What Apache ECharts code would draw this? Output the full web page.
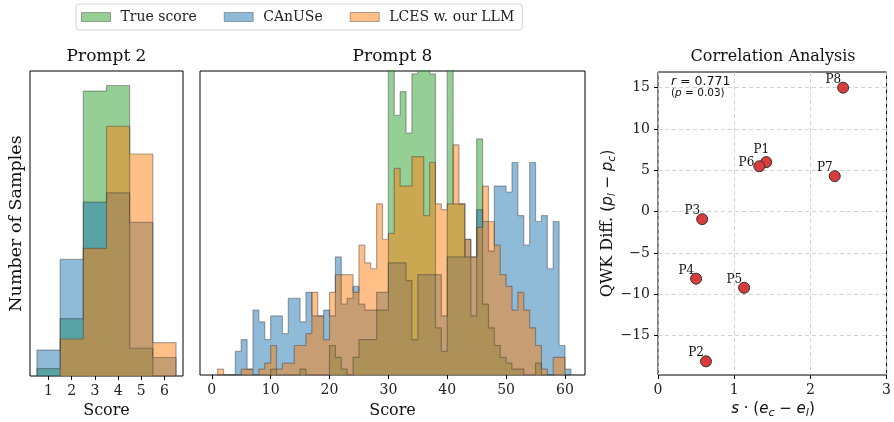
<!DOCTYPE html>
<html>
<head>
<meta charset="utf-8">
<script src="https://cdn.jsdelivr.net/npm/echarts@6/dist/echarts.min.js"></script>
<style>
  html, body { margin: 0; padding: 0; background: #fff; }
  #chart { width: 894px; height: 422px; }
</style>
</head>
<body>
<div id="chart"></div>
<script>
const seriesNames = ["True score", "CAnUSe", "LCES w. our LLM"];

// Prompt 2: one bin per integer score
const p2Scores = [1, 2, 3, 4, 5, 6];
const p2True = [4, 31, 154, 157, 15, 0];
const p2Canuse = [14, 63, 94, 99, 83, 10];
const p2Lces = [0, 20, 69, 135, 120, 18];

// Prompt 8: bins [k, k+1], first bin starts at 1
const p8BinStart = 1;
const p8True = [
  0, 0, 0, 0, 0, 0, 0, 0, 0, 1,
  0, 0, 0, 0, 1, 0, 0, 0, 0, 5,
  3, 1, 0, 3, 6, 6, 6, 11, 11, 58,
  44, 48, 41, 51, 60, 58, 51, 8, 4, 58,
  29, 29, 20, 10, 40, 12, 8, 5, 3, 2,
  1, 1, 0, 0, 2, 0, 0, 0, 0, 0
];
const p8Canuse = [
  0, 0, 0, 4, 6, 1, 11, 9, 6, 10,
  10, 7, 13, 13, 9, 14, 10, 10, 11, 10,
  20, 12, 13, 15, 12, 11, 11, 14, 14, 19,
  19, 19, 16, 6, 17, 17, 17, 17, 10, 20,
  20, 20, 23, 20, 28, 26, 21, 32, 32, 31,
  36, 27, 22, 36, 26, 27, 18, 26, 5, 1
];
const p8Lces = [
  1, 0, 0, 0, 1, 1, 0, 1, 2, 5,
  1, 2, 2, 5, 5, 7, 14, 10, 6, 14,
  17, 17, 17, 14, 22, 19, 18, 29, 23, 24,
  35, 32, 32, 37, 37, 27, 36, 29, 28, 29,
  39, 29, 23, 20, 25, 32, 26, 22, 17, 15,
  11, 14, 11, 8, 5, 1, 0, 3, 3, 0
];

const p2Ticks = [1, 2, 3, 4, 5, 6];
const p8Ticks = [0, 10, 20, 30, 40, 50, 60];

// correlation panel
const promptLabels = ["P1", "P2", "P3", "P4", "P5", "P6", "P7", "P8"];
const entropyGap = [1.42, 0.63, 0.58, 0.50, 1.13, 1.33, 2.32, 2.43];
const qwkDiff = [6.0, -18.1, -0.9, -8.1, -9.2, 5.5, 4.3, 15.0];
const corrTicksY = [-15, -10, -5, 0, 5, 10, 15];
const corrR = "0.771";
const corrP = "0.03";

const serif = "DejaVu Serif";
const sans = "DejaVu Sans";
const fills = ["rgba(44,160,44,0.5)", "rgba(31,119,180,0.5)", "rgba(255,127,14,0.5)"];
const edge = "rgba(50,50,50,0.4)";
// label nudges for the crowded points
const labelNudge = { P1: [9, -12], P6: [1, -3] };

function stepPoints(firstEdge, width, counts) {
  const last = firstEdge + counts.length * width;
  const pts = [[firstEdge, 0]];
  counts.forEach((c, i) => pts.push([firstEdge + i * width, c]));
  pts.push([last, counts[counts.length - 1]]);
  pts.push([last, 0]);
  return pts;
}

function histSeries(idx, gridIdx, points) {
  return {
    name: seriesNames[idx],
    type: "line",
    xAxisIndex: gridIdx,
    yAxisIndex: gridIdx,
    step: "end",
    data: points,
    symbol: "none",
    silent: true,
    animation: false,
    lineStyle: { color: edge, width: 1.2 },
    itemStyle: { color: fills[idx] },
    areaStyle: { color: fills[idx], opacity: 1 }
  };
}

function histXAxis(gridIdx, min, max, ticks) {
  return {
    type: "value", gridIndex: gridIdx, min: min, max: max,
    axisLine: { show: false, onZero: false },
    splitLine: { show: false },
    axisTick: { show: true, length: 4, customValues: ticks, lineStyle: { color: "#000", width: 1 } },
    axisLabel: { customValues: ticks, margin: 8, fontFamily: serif, fontSize: 14, color: "#222" }
  };
}

function text(x, y, str, size, extra) {
  return {
    type: "text", x: x, y: y, silent: true,
    style: Object.assign({
      text: str, fontFamily: serif, fontSize: size, fill: "#111",
      align: "center", verticalAlign: "middle", textAlign: "center", textVerticalAlign: "middle"
    }, extra || {})
  };
}

const mathRich = {
  m: { fontFamily: sans, fontStyle: "italic", fontSize: 15, lineHeight: 20, color: "#111" },
  n: { fontFamily: sans, fontSize: 15, lineHeight: 20, color: "#111" },
  s: { fontFamily: sans, fontStyle: "italic", fontSize: 11, lineHeight: 12, verticalAlign: "bottom", color: "#111" }
};

const p2Max = Math.max(...p2True, ...p2Canuse, ...p2Lces) * 1.05;

const chart = echarts.init(document.getElementById("chart"));

const option = {
  animation: false,
  backgroundColor: "#fff",
  legend: {
    left: 76, top: 4,
    icon: "rect", itemWidth: 29, itemHeight: 9, itemGap: 27,
    padding: [6, 8, 6, 5],
    borderColor: "#d4d4d4", borderWidth: 1, borderRadius: 3,
    selectedMode: false,
    textStyle: { fontFamily: serif, fontSize: 14, color: "#222", padding: [0, 0, 0, 5] },
    data: seriesNames.map((n, i) => ({ name: n, itemStyle: { color: fills[i], borderColor: edge, borderWidth: 1 } }))
  },
  grid: [
    { left: 30, top: 71, width: 153, height: 305, show: true, borderColor: "#000", borderWidth: 1, backgroundColor: "transparent" },
    { left: 200, top: 71, width: 385, height: 304, show: true, borderColor: "#000", borderWidth: 1, backgroundColor: "transparent" },
    { left: 658, top: 72, width: 230, height: 303, show: true, borderColor: "#000", borderWidth: 1, backgroundColor: "transparent" }
  ],
  xAxis: [
    histXAxis(0, 0.2, 6.8, p2Ticks),
    histXAxis(1, -2, 63.4, p8Ticks),
    {
      type: "value", gridIndex: 2, min: 0, max: 3, interval: 1,
      axisLine: { show: false, onZero: false },
      axisTick: { show: true, length: 4, lineStyle: { color: "#000" } },
      axisLabel: { margin: 8, fontFamily: serif, fontSize: 14, color: "#222" },
      splitLine: { show: true, lineStyle: { color: "#c8c8c8", type: [4, 3], width: 0.8 } }
    }
  ],
  yAxis: [
    { type: "value", gridIndex: 0, min: 0, max: p2Max, show: false },
    { type: "value", gridIndex: 1, min: 0, max: 51.5, show: false },
    {
      type: "value", gridIndex: 2, min: -19.75, max: 16.9, splitNumber: 7,
      axisLine: { show: false, onZero: false },
      axisTick: { show: true, length: 4, customValues: corrTicksY, lineStyle: { color: "#000" } },
      axisLabel: {
        customValues: corrTicksY, margin: 8, fontFamily: serif, fontSize: 14, color: "#222",
        formatter: v => (v < 0 ? "\u2212" + Math.abs(v) : String(v))
      },
      splitLine: { show: true, lineStyle: { color: "#c8c8c8", type: [4, 3], width: 0.8 } }
    }
  ],
  series: [
    histSeries(0, 0, stepPoints(p2Scores[0] - 0.5, 1, p2True)),
    histSeries(1, 0, stepPoints(p2Scores[0] - 0.5, 1, p2Canuse)),
    histSeries(2, 0, stepPoints(p2Scores[0] - 0.5, 1, p2Lces)),
    histSeries(0, 1, stepPoints(p8BinStart, 1, p8True)),
    histSeries(1, 1, stepPoints(p8BinStart, 1, p8Canuse)),
    histSeries(2, 1, stepPoints(p8BinStart, 1, p8Lces)),
    {
      type: "scatter", xAxisIndex: 2, yAxisIndex: 2,
      symbolSize: 11,
      z: 5,
      itemStyle: { color: "#d83c3c", borderColor: "#333", borderWidth: 1, opacity: 1 },
      label: { show: true, position: "left", distance: 0, formatter: "{b}", fontFamily: serif, fontSize: 12, color: "#111" },
      data: promptLabels.map((p, i) => ({
        name: p,
        value: [entropyGap[i], qwkDiff[i]],
        label: { offset: labelNudge[p] || [4, -8] }
      }))
    }
  ],
  graphic: [
    text(106.5, 57, "Prompt 2", 17),
    text(392.5, 57, "Prompt 8", 17),
    text(773, 57, "Correlation Analysis", 16),
    text(106.5, 411, "Score", 16),
    text(392.5, 411, "Score", 16),
    Object.assign(text(16, 223.5, "Number of Samples", 17.5), { rotation: Math.PI / 2 }),
    Object.assign(text(608, 223.5, "QWK Diff. {n|(}{m|p}{s|l}{n| \u2212 }{m|p}{s|c}{n|)}", 16, { rich: mathRich, lineHeight: 20 }), { rotation: Math.PI / 2 }),
    text(773, 409, "{m|s}{n| \u00b7 (}{m|e}{s|c}{n| \u2212 }{m|e}{s|l}{n|)}", 15, { rich: mathRich, fontFamily: sans, lineHeight: 20 }),
    text(671, 82, "{i|r}{t| = " + corrR + "}", 12.5, {
      align: "left", textAlign: "left",
      rich: { i: { fontFamily: sans, fontStyle: "italic", fontSize: 12.5, color: "#111" }, t: { fontFamily: sans, fontSize: 12.5, color: "#111" } }
    }),
    text(671, 93, "{t|(}{i|p}{t| = " + corrP + ")}", 10.5, {
      align: "left", textAlign: "left",
      rich: { i: { fontFamily: sans, fontStyle: "italic", fontSize: 10.5, color: "#111" }, t: { fontFamily: sans, fontSize: 10.5, color: "#111" } }
    })
  ]
};

chart.setOption(option);
</script>
</body>
</html>
